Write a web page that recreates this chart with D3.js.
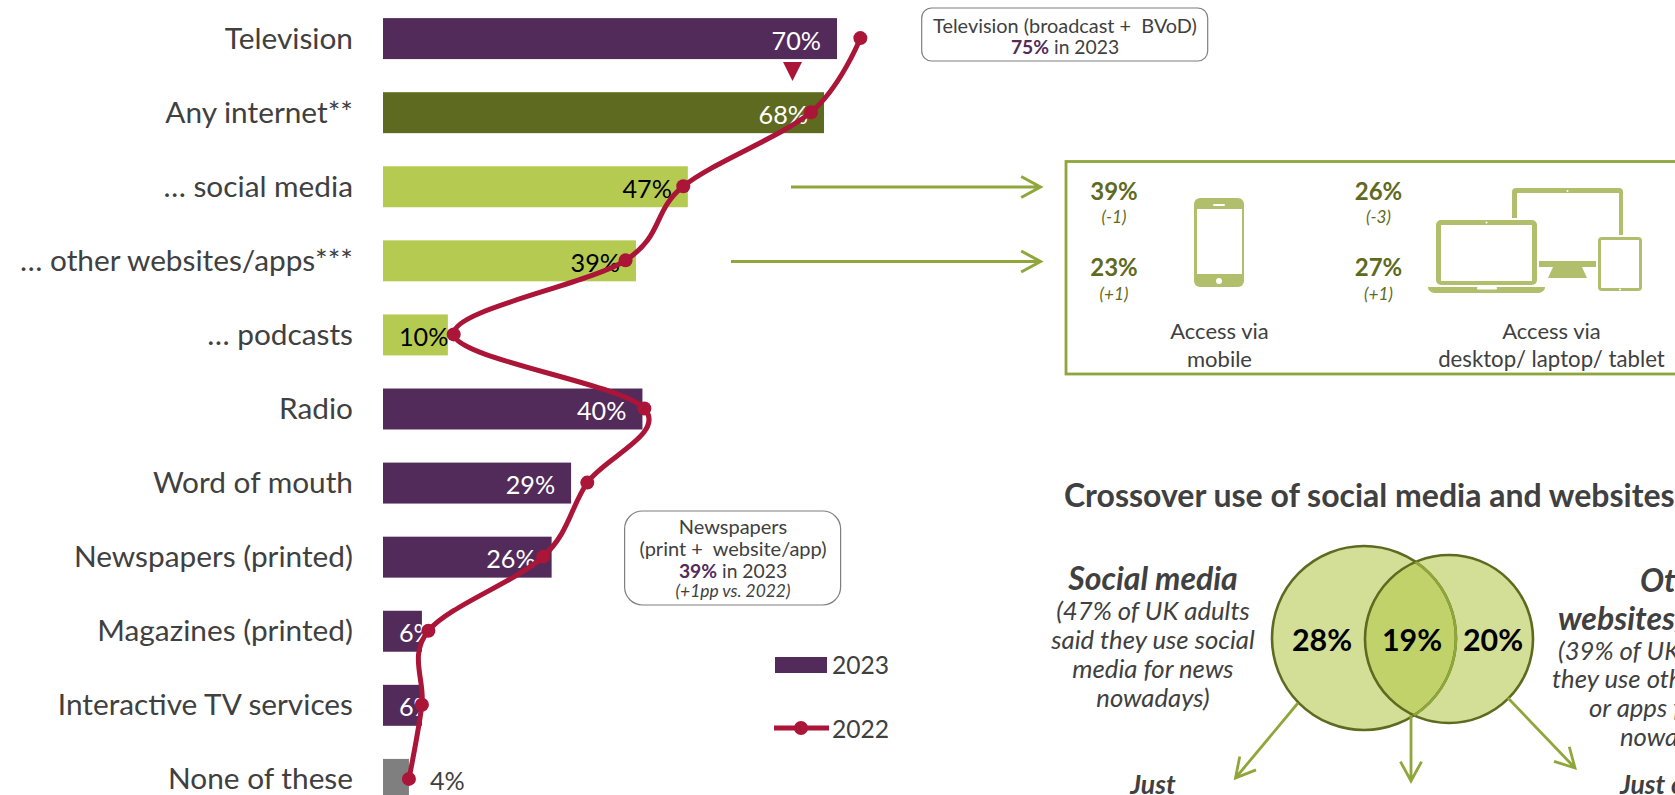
<!DOCTYPE html>
<html><head><meta charset="utf-8">
<style>html,body{margin:0;padding:0;background:#fff;overflow:hidden}svg{display:block}text{font-family:Lato,sans-serif}</style>
<script src="https://cdn.jsdelivr.net/npm/d3@7"></script></head><body>
<script>
const categories=["Television","Any internet**","… social media","… other websites/apps***","… podcasts","Radio","Word of mouth","Newspapers (printed)","Magazines (printed)","Interactive TV services","None of these"];
const values2023=[70,68,47,39,10,40,29,26,6,6,4];
const values2022=[73.6,66,46.3,37.4,10.9,40.3,31.5,24.7,7,6,4];
const barKinds=["media","internet","sub","sub","sub","media","media","media","media","media","none"];
const kindColors={media:"#532b5a",internet:"#5f6a21",sub:"#b5ca50",none:"#7f7f7f"};
const labelColors={media:"#ffffff",internet:"#ffffff",sub:"#000000",none:"#404040"};
const legendYears=["2023","2022"];
const mobileAccess=[["39%","(-1)"],["23%","(+1)"]];
const desktopAccess=[["26%","(-3)"],["27%","(+1)"]];
const vennLabels=["28%","19%","20%"];

const W=1675,H=795,GREY="#404040",RED="#ab1538",LINEG="#8fa63a",OLIVE="#5f6a21",ICON="#b1bf6d",PURPLE="#532b5a";
const svg=d3.select("body").append("svg").attr("width",W).attr("height",H).attr("viewBox",`0 0 ${W} ${H}`);
const x=d3.scaleLinear().domain([0,70]).range([383,837]);
const y=d3.scaleBand().domain(categories).range([-15,833]).paddingInner(0.447).paddingOuter(0.447);
const cy=c=>y(c)+y.bandwidth()/2;

function T(px,py,str,size,o={}){
  const t=svg.append("text").attr("x",px).attr("y",py).attr("font-size",size).attr("fill",o.fill||GREY)
   .attr("text-anchor",o.anchor||"middle").attr("dominant-baseline","central");
  if(o.bold)t.attr("font-weight",700);if(o.italic)t.attr("font-style","italic");
  t.style("white-space","pre");
  if(o.spans){o.spans.forEach(s=>{const p=t.append("tspan").text(s.t);if(s.bold)p.attr("font-weight",700);if(s.fill)p.attr("fill",s.fill);});}
  else t.text(str);
  return t;
}
function arrow(x1,y1,x2,y2,hl=22,sw=3){
  const a=Math.atan2(y2-y1,x2-x1),sp=0.5;
  svg.append("path").attr("fill","none").attr("stroke",LINEG).attr("stroke-width",sw)
   .attr("d",`M${x1},${y1}L${x2},${y2}M${x2-hl*Math.cos(a-sp)},${y2-hl*Math.sin(a-sp)}L${x2},${y2}L${x2-hl*Math.cos(a+sp)},${y2-hl*Math.sin(a+sp)}`);
}

// bars
svg.append("g").selectAll("rect").data(categories).join("rect")
 .attr("x",x(0)).attr("y",c=>y(c)).attr("height",y.bandwidth())
 .attr("width",(c,i)=>x(values2023[i])-x(0)).attr("fill",(c,i)=>kindColors[barKinds[i]]);

// category axis
const ax=svg.append("g").attr("transform","translate(353,-1.5)").call(d3.axisLeft(y).tickSize(0).tickPadding(0));
ax.select(".domain").remove();
ax.selectAll("text").attr("font-size",29.8).attr("fill",GREY).attr("font-family","Lato,sans-serif").attr("dy",null).attr("dominant-baseline","central");

// value labels
categories.forEach((c,i)=>{
  const v=values2023[i],k=barKinds[i],w=x(v)-x(0),s=v+"%";
  if(k==="none")T(x(v)+21,cy(c)+1,s,25.2,{anchor:"start",fill:labelColors[k]});
  else if(w<100) T(x(0)+16,cy(c)+1,s,25.2,{anchor:"start",fill:labelColors[k]});
  else T(x(v)-16,cy(c)+1,s,25.2,{anchor:"end",fill:labelColors[k]});
});

// 2022 line
const line=d3.line().x(d=>x(d)).y((d,i)=>cy(categories[i])-0.5).curve(d3.curveCatmullRom.alpha(0));
svg.append("path").attr("d",line(values2022)).attr("fill","none").attr("stroke",RED).attr("stroke-width",5);
svg.append("g").selectAll("circle").data(values2022).join("circle")
 .attr("cx",d=>x(d)).attr("cy",(d,i)=>cy(categories[i])-0.5).attr("r",7).attr("fill",RED);

// triangle
svg.append("path").attr("d","M783,62H802L792.5,81Z").attr("fill",RED);

// legend
svg.append("rect").attr("x",775).attr("y",657).attr("width",52).attr("height",16).attr("fill",PURPLE);
svg.append("path").attr("d","M774,728H829").attr("stroke",RED).attr("stroke-width",5);
svg.append("circle").attr("cx",801).attr("cy",728).attr("r",7).attr("fill",RED);
T(832,664,legendYears[0],24.6,{anchor:"start"});
T(832,728,legendYears[1],24.6,{anchor:"start"});

// callouts
svg.append("rect").attr("x",921.7).attr("y",8).attr("width",286).attr("height",53).attr("rx",10).attr("fill","#fff").attr("stroke","#7f7f7f").attr("stroke-width",1.2);
T(1065,24.5,"Television (broadcast +  BVoD)",19.9);
T(1065,46,"",19.3,{spans:[{t:"75%",bold:true,fill:PURPLE},{t:" in 2023"}]});
svg.append("rect").attr("x",624.6).attr("y",511).attr("width",216).attr("height",94).attr("rx",18).attr("fill","#fff").attr("stroke","#7f7f7f").attr("stroke-width",1.2);
T(733,526,"Newspapers",20);
T(733,548,"(print +  website/app)",20);
T(733,570,"",19.3,{spans:[{t:"39%",bold:true,fill:PURPLE},{t:" in 2023"}]});
T(733,590,"(+1pp vs. 2022)",17.4,{italic:true});

// feed arrows
arrow(791,187,1040.5,187);
arrow(731,261.5,1040.5,261.5);

// access box
svg.append("rect").attr("x",1066).attr("y",161.5).attr("width",700).attr("height",212.5).attr("fill","none").attr("stroke",LINEG).attr("stroke-width",2.8);
[[1114,mobileAccess],[1378.5,desktopAccess]].forEach(([cx,rows])=>{
  rows.forEach((r,i)=>{
    T(cx,190+i*76.5,r[0],24,{bold:true,fill:OLIVE});
    T(cx,216.5+i*76.5,r[1],17.2,{italic:true,fill:OLIVE});
  });
});
T(1219.5,330.5,"Access via",22);T(1219.5,358.5,"mobile",22);
T(1551.5,330.5,"Access via",22);T(1551.5,358.5,"desktop/ laptop/ tablet",22.2);

// icons
const R=(x0,y0,w,h,rx,fill)=>svg.append("rect").attr("x",x0).attr("y",y0).attr("width",w).attr("height",h).attr("rx",rx).attr("fill",fill);
const D=(cx,cy0,r,fill)=>svg.append("circle").attr("cx",cx).attr("cy",cy0).attr("r",r).attr("fill",fill);
// phone
R(1194,198,50,89,6,ICON);R(1197,209,45,65,0,"#fff");R(1213,204,12,2,1,"#fff");D(1219,281,3,"#fff");
// monitor
R(1512,188,111,79,4,ICON);R(1517,193,102,68,0,"#fff");D(1567.5,191,1,"#fff");
svg.append("path").attr("d","M1553,267H1582L1587,278H1548Z").attr("fill",ICON);
// laptop
R(1434,218,105,69,5,"#fff");R(1436,220,101,65,5,ICON);R(1441,225,91,56,0,"#fff");D(1486.5,222.5,1,"#fff");
svg.append("path").attr("d","M1428,287H1545C1545,291,1541,293,1537,293H1436C1432,293,1428,291,1428,287Z").attr("fill",ICON);
R(1477,287,20,2.5,1,"#fff");
// tablet
R(1596,235,48,58,4,"#fff");R(1598,237,44,54,4,ICON);R(1601,240,38,48,0,"#fff");D(1620,289.5,1,"#fff");

// title
T(1064,494,"Crossover use of social media and websites/apps",32,{anchor:"start",bold:true});

// venn
const defs=svg.append("defs");
const vL={cx:1364,cy:638,r:92},vR={cx:1449,cy:639,r:84};
defs.append("clipPath").attr("id","cl").append("circle").attr("cx",vL.cx).attr("cy",vL.cy).attr("r",vL.r);
defs.append("clipPath").attr("id","cr").append("circle").attr("cx",vR.cx).attr("cy",vR.cy).attr("r",vR.r);
const C=(v,fill,stroke,clip)=>{const c=svg.append("circle").attr("cx",v.cx).attr("cy",v.cy).attr("r",v.r).attr("fill",fill).attr("stroke",stroke).attr("stroke-width",2.6);if(clip)c.attr("clip-path",`url(#${clip})`);};
C(vL,"#d3df96","none");C(vR,"#d3df96","none");
C(vR,"#c1d26b","none","cl");
C(vL,"none",OLIVE);C(vR,"none",OLIVE);
C(vL,"none",LINEG,"cr");
const vy=639;
T(1322,vy,vennLabels[0],30.4,{bold:true,fill:"#000"});
T(1412,vy,vennLabels[1],30.4,{bold:true,fill:"#000"});
T(1493,vy,vennLabels[2],30.4,{bold:true,fill:"#000"});

// venn arrows
arrow(1298,703,1235.5,778,22,2.8);
arrow(1411,715,1411,781,22,2.8);
arrow(1508,698,1575,768,22,2.8);

// venn text
T(1153,577,"Social media",32,{bold:true,italic:true});
["(47% of UK adults","said they use social","media for news","nowadays)"].forEach((s,i)=>T(1153,610+i*29,s,25.7,{italic:true}));
T(1153,784,"Just",26.5,{bold:true,italic:true});
T(1640,579,"Other",32,{anchor:"start",bold:true,italic:true});
T(1558,617,"websites/apps",32,{anchor:"start",bold:true,italic:true});
T(1558,650,"(39% of UK adults said",25.7,{anchor:"start",italic:true});
T(1552,678,"they use other websites",25.7,{anchor:"start",italic:true});
T(1589,707,"or apps for news",25.7,{anchor:"start",italic:true});
T(1620,736,"nowadays)",25.7,{anchor:"start",italic:true});
T(1620,784,"Just other",26.5,{anchor:"start",bold:true,italic:true});
</script></body></html>
